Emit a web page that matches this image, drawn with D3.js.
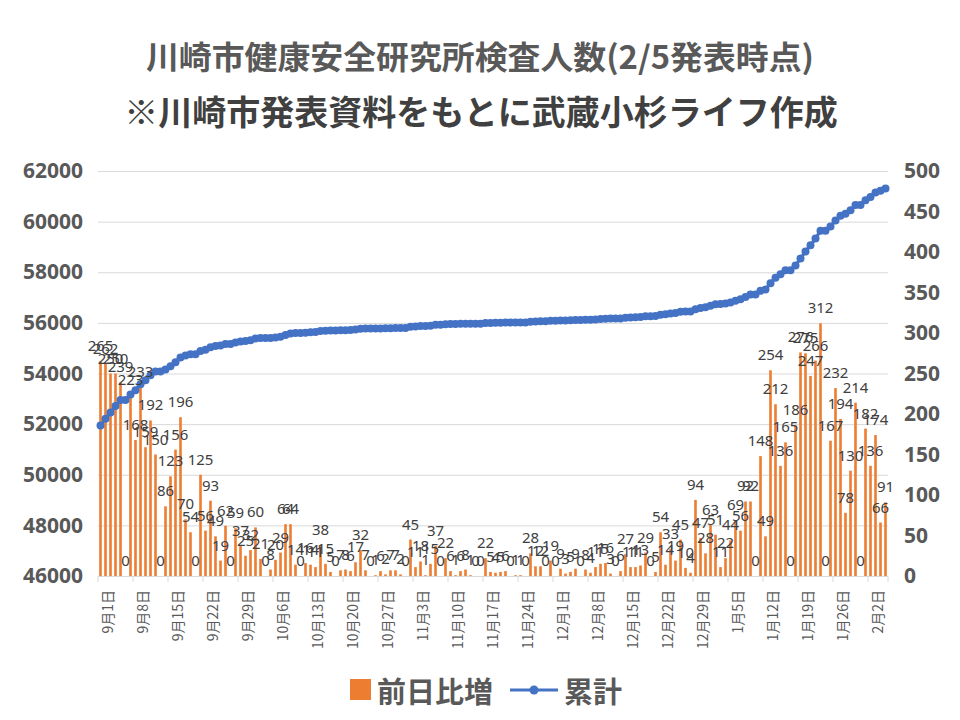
<!DOCTYPE html>
<html><head><meta charset="utf-8">
<script src="https://cdn.jsdelivr.net/npm/d3@7/dist/d3.min.js"></script>
<style>body{margin:0;background:#fff} svg{display:block}</style>
</head><body><svg id="c" width="960" height="720"></svg>
<script>
const titleLines = ["川崎市健康安全研究所検査人数(2/5発表時点)", "※川崎市発表資料をもとに武蔵小杉ライフ作成"];
const seriesNames = ["前日比増", "累計"];
const startDate = new Date(2020, 8, 1);
// 前日比増 (daily increase), 2020-09-01 .. 2021-02-05
const dailyIncrease = [
  265,262,250,250,239,0,
  223,168,233,159,192,150,0,
  86,123,156,196,70,54,0,
  125,56,93,49,19,62,0,
  59,37,25,32,60,21,0,
  8,20,29,64,64,14,0,
  16,14,11,38,15,5,0,
  7,8,6,17,32,7,0,
  1,6,2,7,7,2,0,
  45,11,18,1,15,37,0,
  22,6,1,6,8,1,0,
  0,22,5,4,5,6,0,
  1,1,0,28,12,12,0,
  19,0,9,3,5,9,0,
  8,4,11,15,16,3,0,
  6,27,11,11,13,29,0,
  5,54,14,33,19,45,10,
  4,94,47,28,63,51,11,
  22,44,69,56,92,92,0,
  148,49,254,212,136,165,0,
  186,276,275,247,266,312,0,
  167,232,194,78,130,214,0,
  182,136,174,66,91
];
const cumulativeStart = 51950; // 累計 on 9/1
const tickLabels = ["9月1日","9月8日","9月15日","9月22日","9月29日","10月6日","10月13日","10月20日","10月27日","11月3日","11月10日","11月17日","11月24日","12月1日","12月8日","12月15日","12月22日","12月29日","1月5日","1月12日","1月19日","1月26日","2月2日"];
const leftTicks = [46000,48000,50000,52000,54000,56000,58000,60000,62000];
const rightTicks = [0,50,100,150,200,250,300,350,400,450,500];

const dates = d3.timeDay.range(startDate, d3.timeDay.offset(startDate, dailyIncrease.length));
const cumulative = dailyIncrease.map((d, i) => cumulativeStart + (i === 0 ? 0 : d3.sum(dailyIncrease.slice(1, i + 1))));
const data = dates.map((d, i) => ({i, date: d, inc: dailyIncrease[i], cum: cumulative[i]}));

const svg = d3.select("#c");
const L = 98, R = 888, T = 171, B = 576;
const x = d3.scaleBand().domain(d3.range(data.length)).range([L, R]);
const step = x.step();
const cx = i => x(i) + x.bandwidth() / 2;
const yL = d3.scaleLinear().domain([46000, 62000]).range([B, T]);
const yR = d3.scaleLinear().domain([0, 500]).range([B, T]);
const orange = "#ED7D31", blue = "#4472C4";
const jp = "'Noto Sans CJK JP','Noto Sans',sans-serif";
const num = "'Noto Sans','Open Sans',sans-serif";

// titles
svg.append("text").attr("x", 480).attr("y", 55).attr("text-anchor", "middle").attr("dominant-baseline", "central")
  .attr("font-family", jp).attr("font-weight", 700).attr("font-size", 32).attr("fill", "#595959")
  .attr("textLength", 668).attr("lengthAdjust", "spacingAndGlyphs").text(titleLines[0]);
svg.append("text").attr("x", 481).attr("y", 110).attr("text-anchor", "middle").attr("dominant-baseline", "central")
  .attr("font-family", jp).attr("font-weight", 700).attr("font-size", 34).attr("fill", "#404040").text(titleLines[1]);

// gridlines + left axis
const gL = svg.append("g").attr("transform", `translate(${L},0)`)
  .call(d3.axisLeft(yL).tickValues(leftTicks).tickSize(-(R - L)).tickPadding(15).tickFormat(d3.format("d")));
gL.select(".domain").remove();
gL.selectAll(".tick line").attr("stroke", "#d9d9d9").attr("stroke-width", 1);
gL.selectAll(".tick text").attr("font-family", num).attr("font-weight", 700).attr("font-size", 21).attr("fill", "#595959");

// right axis
const gR = svg.append("g").attr("transform", `translate(${R},0)`)
  .call(d3.axisRight(yR).tickValues(rightTicks).tickSize(0).tickPadding(16));
gR.select(".domain").remove();
gR.selectAll(".tick text").attr("font-family", num).attr("font-weight", 700).attr("font-size", 21).attr("fill", "#595959");

// x axis
svg.append("line").attr("x1", L).attr("x2", R).attr("y1", B + 0.5).attr("y2", B + 0.5).attr("stroke", "#d9d9d9");
const tickIdx = tickLabels.map((t, k) => k * 7);
svg.append("g").selectAll("line").data(tickIdx.concat([data.length])).join("line")
  .attr("x1", i => L + step * i).attr("x2", i => L + step * i)
  .attr("y1", B).attr("y2", B + 6).attr("stroke", "#d9d9d9");
svg.append("g").selectAll("text").data(tickIdx).join("text")
  .attr("transform", (i) => `translate(${L + step * i + 9},590) rotate(-90)`)
  .attr("text-anchor", "end").attr("dominant-baseline", "central")
  .attr("font-family", jp).attr("font-size", 14).attr("fill", "#595959")
  .text((i, k) => tickLabels[k]);

// bars
svg.append("g").selectAll("rect").data(data).join("rect")
  .attr("x", d => cx(d.i) - 1.3).attr("width", 2.6)
  .attr("y", d => yR(d.inc)).attr("height", d => B - yR(d.inc))
  .attr("fill", orange);

// line
svg.append("path").datum(data)
  .attr("d", d3.line().x(d => cx(d.i)).y(d => yL(d.cum)))
  .attr("fill", "none").attr("stroke", blue).attr("stroke-width", 3.2);
svg.append("g").selectAll("circle").data(data).join("circle")
  .attr("cx", d => cx(d.i)).attr("cy", d => yL(d.cum)).attr("r", 4).attr("fill", blue);

// bar labels
svg.append("g").selectAll("text").data(data).join("text")
  .attr("x", d => cx(d.i)).attr("y", d => yR(d.inc) - 16)
  .attr("text-anchor", "middle").attr("dominant-baseline", "central")
  .attr("font-family", num).attr("font-size", 15).attr("fill", "#404040")
  .text(d => d.inc);

// legend
const lg = svg.append("g");
lg.append("rect").attr("x", 350).attr("y", 679).attr("width", 21).attr("height", 21).attr("fill", orange);
lg.append("text").attr("x", 377).attr("y", 690).attr("dominant-baseline", "central")
  .attr("font-family", jp).attr("font-weight", 700).attr("font-size", 29).attr("fill", "#595959").text(seriesNames[0]);
lg.append("line").attr("x1", 510).attr("x2", 558).attr("y1", 690).attr("y2", 690).attr("stroke", blue).attr("stroke-width", 3.2);
lg.append("circle").attr("cx", 534).attr("cy", 690).attr("r", 4.5).attr("fill", blue);
lg.append("text").attr("x", 564).attr("y", 690).attr("dominant-baseline", "central")
  .attr("font-family", jp).attr("font-weight", 700).attr("font-size", 29).attr("fill", "#595959").text(seriesNames[1]);
</script></body></html>
